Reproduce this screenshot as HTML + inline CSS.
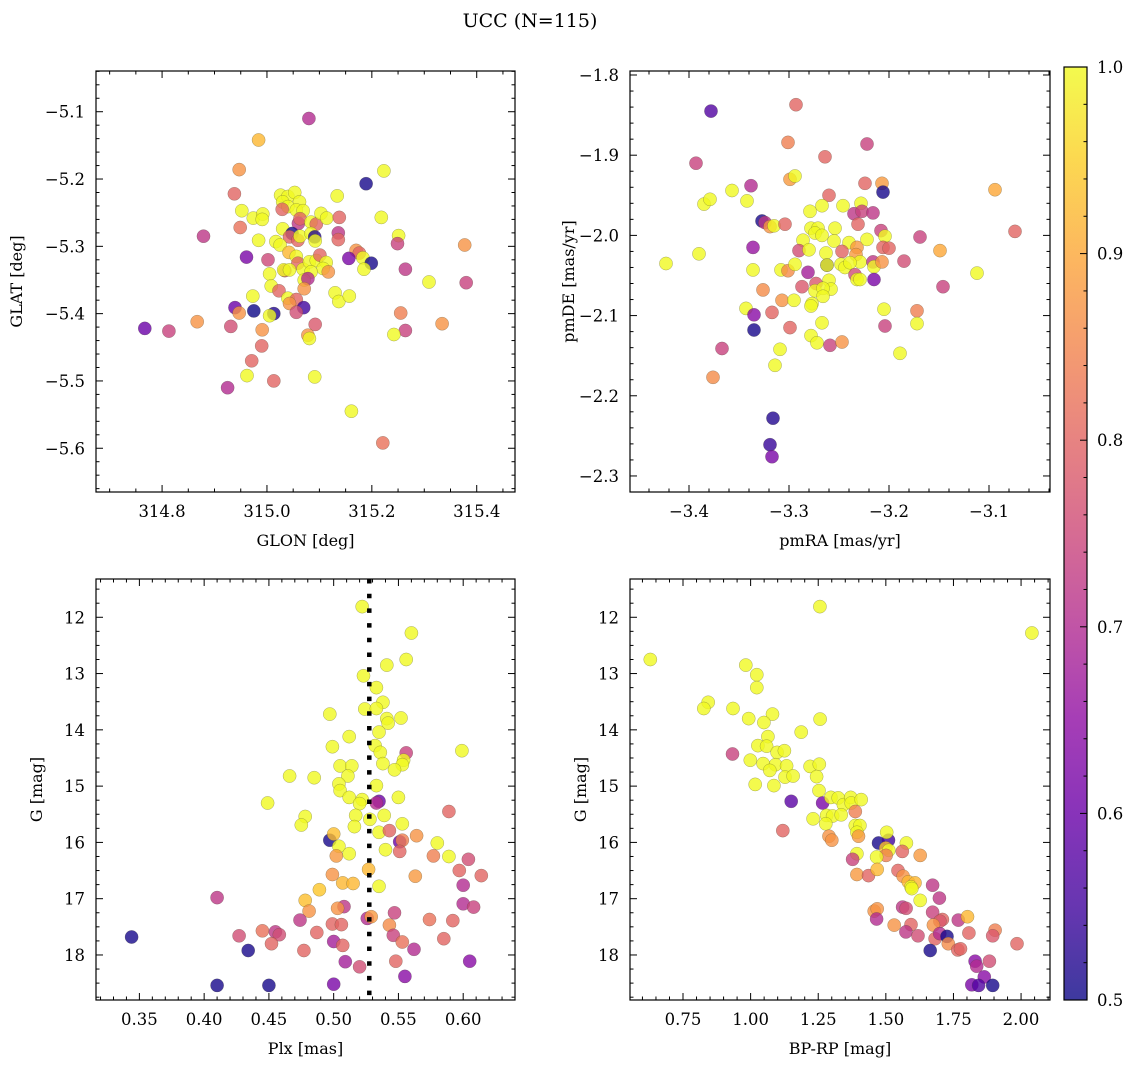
<!DOCTYPE html>
<html><head><meta charset="utf-8">
<style>
html,body{margin:0;padding:0;background:#fff;}
svg{display:block;font-family:"DejaVu Serif","Liberation Serif",serif;}
</style></head>
<body>
<svg id="fig" width="1136" height="1067" viewBox="0 0 1136 1067" xmlns="http://www.w3.org/2000/svg">
<text x="530" y="27" font-size="19" text-anchor="middle">UCC (N=115)</text>
</svg>
<script>
// ---------- Panel 1: GLON vs GLAT ----------
const p1x=[315.080,314.984,314.947,315.223,315.189,314.938,314.952,314.949,314.879,314.961,314.984,315.002,314.974,314.992,314.991,315.026,315.040,315.053,315.062,315.030,315.040,315.056,315.069,315.029,315.060,315.063,315.030,315.048,315.043,315.059,315.063,315.084,315.094,315.084,315.091,315.092,315.103,315.114,315.138,315.134,315.136,315.136,315.017,315.025,315.042,315.056,315.059,315.034,315.032,315.043,315.069,315.081,315.094,315.101,315.113,315.107,315.117,315.084,315.071,315.078,315.071,315.005,315.008,315.023,314.973,315.040,315.056,315.043,315.070,315.056,315.013,315.005,314.975,314.939,314.947,315.170,315.176,315.156,315.183,315.199,315.185,315.130,315.137,315.157,315.218,315.251,315.249,315.264,315.309,315.377,315.380,315.255,315.264,315.242,315.334,314.767,314.813,314.867,314.931,314.991,314.990,314.971,314.962,314.925,315.013,315.091,315.092,315.078,315.081,315.161,315.221];
const p1y=[-5.110,-5.142,-5.186,-5.188,-5.207,-5.222,-5.247,-5.272,-5.285,-5.316,-5.291,-5.320,-5.258,-5.252,-5.260,-5.224,-5.226,-5.220,-5.234,-5.234,-5.241,-5.246,-5.247,-5.245,-5.266,-5.259,-5.274,-5.281,-5.286,-5.291,-5.285,-5.264,-5.267,-5.281,-5.286,-5.292,-5.251,-5.258,-5.257,-5.225,-5.280,-5.290,-5.293,-5.298,-5.309,-5.315,-5.325,-5.336,-5.335,-5.335,-5.334,-5.323,-5.321,-5.313,-5.324,-5.333,-5.338,-5.338,-5.350,-5.348,-5.363,-5.341,-5.359,-5.366,-5.374,-5.377,-5.379,-5.385,-5.391,-5.398,-5.400,-5.403,-5.396,-5.391,-5.399,-5.306,-5.310,-5.318,-5.317,-5.325,-5.334,-5.369,-5.382,-5.374,-5.257,-5.284,-5.296,-5.334,-5.353,-5.298,-5.354,-5.399,-5.425,-5.431,-5.415,-5.422,-5.426,-5.412,-5.419,-5.424,-5.448,-5.470,-5.492,-5.510,-5.500,-5.494,-5.416,-5.432,-5.437,-5.545,-5.592];
const p1c=[0.70,0.92,0.87,1.00,0.51,0.80,1.00,0.82,0.72,0.62,1.00,0.75,1.00,1.00,1.00,1.00,1.00,1.00,1.00,1.00,1.00,1.00,1.00,0.80,0.72,0.80,1.00,0.51,0.80,0.80,1.00,1.00,0.80,1.00,0.52,1.00,1.00,1.00,0.80,1.00,0.72,0.80,1.00,1.00,0.92,1.00,0.80,0.76,1.00,1.00,1.00,1.00,1.00,0.80,1.00,1.00,0.87,1.00,1.00,0.70,0.87,1.00,1.00,0.80,1.00,1.00,0.80,0.87,0.55,0.76,0.52,1.00,0.50,0.60,0.87,0.87,0.80,0.62,1.00,0.51,1.00,1.00,1.00,1.00,1.00,1.00,0.74,0.72,1.00,0.87,0.74,0.84,0.74,1.00,0.87,0.60,0.74,0.87,0.76,0.87,0.80,0.80,1.00,0.70,0.80,1.00,0.78,0.87,1.00,1.00,0.82];

// ---------- Panel 2: pmRA vs pmDE ----------
const p2x=[-3.378,-3.293,-3.301,-3.222,-3.264,-3.393,-3.299,-3.294,-3.224,-3.207,-3.206,-3.094,-3.338,-3.357,-3.385,-3.379,-3.342,-3.260,-3.279,-3.267,-3.246,-3.228,-3.235,-3.227,-3.216,-3.231,-3.327,-3.324,-3.319,-3.315,-3.304,-3.278,-3.271,-3.274,-3.267,-3.254,-3.286,-3.255,-3.240,-3.232,-3.222,-3.208,-3.204,-3.206,-3.200,-3.169,-3.074,-3.149,-3.336,-3.290,-3.280,-3.263,-3.247,-3.233,-3.229,-3.262,-3.262,-3.248,-3.244,-3.239,-3.216,-3.215,-3.207,-3.185,-3.423,-3.390,-3.336,-3.308,-3.301,-3.294,-3.281,-3.234,-3.232,-3.229,-3.215,-3.112,-3.146,-3.287,-3.273,-3.260,-3.258,-3.274,-3.266,-3.266,-3.326,-3.307,-3.295,-3.277,-3.278,-3.343,-3.335,-3.317,-3.335,-3.299,-3.267,-3.205,-3.172,-3.172,-3.204,-3.278,-3.272,-3.259,-3.247,-3.309,-3.314,-3.367,-3.376,-3.189,-3.316,-3.319,-3.317];
const p2y=[-1.845,-1.837,-1.884,-1.886,-1.902,-1.910,-1.930,-1.926,-1.935,-1.935,-1.946,-1.943,-1.938,-1.944,-1.961,-1.955,-1.957,-1.950,-1.970,-1.963,-1.963,-1.960,-1.973,-1.970,-1.972,-1.986,-1.982,-1.984,-1.989,-1.988,-1.986,-1.991,-1.991,-1.997,-2.000,-1.991,-2.006,-2.007,-2.009,-2.015,-2.005,-1.994,-2.001,-2.015,-2.016,-2.002,-1.995,-2.019,-2.015,-2.019,-2.018,-2.022,-2.020,-2.024,-2.033,-2.037,-2.037,-2.036,-2.040,-2.034,-2.033,-2.039,-2.033,-2.032,-2.035,-2.023,-2.043,-2.043,-2.044,-2.036,-2.046,-2.049,-2.055,-2.055,-2.055,-2.047,-2.064,-2.064,-2.060,-2.056,-2.067,-2.069,-2.066,-2.076,-2.068,-2.081,-2.081,-2.085,-2.088,-2.091,-2.099,-2.096,-2.118,-2.115,-2.109,-2.092,-2.094,-2.110,-2.113,-2.125,-2.134,-2.137,-2.133,-2.142,-2.162,-2.141,-2.177,-2.147,-2.228,-2.261,-2.276];
const p2c=[0.57,0.80,0.84,0.74,0.80,0.74,0.88,1.00,0.80,0.88,0.51,0.90,0.70,1.00,1.00,1.00,1.00,0.80,1.00,1.00,1.00,1.00,0.72,0.74,0.72,0.80,0.51,0.72,0.87,1.00,0.80,1.00,1.00,1.00,1.00,1.00,1.00,1.00,1.00,0.88,1.00,0.74,1.00,0.80,0.80,0.74,0.80,0.90,0.66,0.76,1.00,1.00,0.80,0.88,1.00,0.52,1.00,1.00,1.00,1.00,0.72,1.00,0.87,0.76,1.00,1.00,1.00,1.00,0.86,1.00,0.68,0.76,1.00,1.00,0.62,1.00,0.74,0.78,0.78,1.00,1.00,1.00,1.00,1.00,0.86,0.87,1.00,1.00,1.00,1.00,0.64,0.80,0.51,0.80,1.00,1.00,0.84,1.00,0.74,1.00,1.00,0.74,0.87,1.00,1.00,0.74,0.86,1.00,0.52,0.54,0.62];

// ---------- Panel 3: Plx vs G ----------
const p3x=[0.522,0.560,0.556,0.541,0.523,0.533,0.538,0.524,0.533,0.497,0.541,0.542,0.552,0.535,0.512,0.499,0.532,0.536,0.556,0.554,0.553,0.538,0.547,0.599,0.505,0.514,0.511,0.466,0.485,0.504,0.505,0.533,0.512,0.522,0.520,0.535,0.533,0.550,0.449,0.517,0.528,0.539,0.516,0.478,0.475,0.589,0.553,0.535,0.543,0.564,0.497,0.500,0.551,0.553,0.551,0.580,0.504,0.502,0.512,0.540,0.577,0.589,0.604,0.597,0.614,0.563,0.527,0.499,0.507,0.515,0.535,0.600,0.489,0.410,0.478,0.508,0.503,0.481,0.600,0.608,0.547,0.526,0.529,0.474,0.574,0.592,0.499,0.506,0.543,0.344,0.427,0.445,0.455,0.458,0.487,0.452,0.434,0.477,0.500,0.507,0.546,0.553,0.585,0.562,0.509,0.520,0.548,0.605,0.555,0.410,0.450,0.500];
const p3y=[11.81,12.28,12.75,12.85,13.04,13.25,13.51,13.63,13.62,13.72,13.80,13.88,13.79,14.04,14.12,14.30,14.28,14.40,14.41,14.54,14.62,14.60,14.71,14.37,14.64,14.64,14.82,14.82,14.85,14.96,15.08,14.99,15.20,15.24,15.31,15.27,15.30,15.20,15.30,15.52,15.59,15.52,15.72,15.54,15.69,15.45,15.67,15.82,15.79,15.88,15.96,15.85,15.99,15.96,16.16,16.01,16.07,16.24,16.20,16.13,16.24,16.25,16.30,16.50,16.59,16.60,16.48,16.57,16.72,16.73,16.78,16.76,16.84,16.98,17.03,17.14,17.17,17.22,17.09,17.15,17.25,17.35,17.32,17.38,17.37,17.39,17.45,17.46,17.47,17.68,17.66,17.57,17.59,17.64,17.60,17.80,17.92,17.92,17.76,17.83,17.65,17.77,17.71,17.90,18.12,18.21,18.11,18.11,18.38,18.54,18.54,18.52];
const p3c=[1.00,1.00,1.00,1.00,1.00,1.00,1.00,1.00,1.00,1.00,1.00,1.00,1.00,1.00,1.00,1.00,1.00,1.00,0.74,1.00,1.00,1.00,1.00,1.00,1.00,1.00,1.00,1.00,1.00,1.00,1.00,1.00,1.00,1.00,1.00,0.60,0.70,1.00,1.00,1.00,1.00,1.00,1.00,1.00,1.00,0.80,1.00,1.00,0.80,0.87,0.51,0.93,0.60,0.84,0.80,1.00,1.00,0.88,1.00,1.00,0.84,1.00,0.76,0.80,0.80,0.88,0.92,0.87,0.92,0.92,1.00,0.70,0.94,0.72,0.93,0.72,0.87,0.87,0.70,0.74,0.74,0.70,0.88,0.72,0.82,0.80,0.80,0.80,0.86,0.51,0.76,0.82,0.72,0.76,0.80,0.80,0.51,0.80,0.68,0.80,0.74,0.82,0.80,0.70,0.68,0.76,0.80,0.64,0.64,0.51,0.51,0.62];

// ---------- Panel 4: BP-RP vs G ----------
const p4x=[0.629,1.256,2.040,0.982,1.023,1.023,0.843,0.827,0.935,1.081,0.993,1.049,1.257,1.187,1.064,1.027,1.059,1.098,1.125,0.933,0.999,1.046,1.092,1.071,1.133,1.127,1.157,1.220,1.254,1.244,1.017,1.086,1.253,1.150,1.266,1.297,1.324,1.343,1.370,1.372,1.409,1.231,1.281,1.303,1.335,1.278,1.387,1.387,1.404,1.393,1.399,1.119,1.290,1.300,1.473,1.510,1.503,1.500,1.511,1.501,1.466,1.576,1.561,1.627,1.393,1.377,1.393,1.436,1.468,1.545,1.564,1.583,1.608,1.593,1.596,1.673,1.698,1.627,1.562,1.575,1.457,1.468,1.466,1.673,1.709,1.700,1.768,1.802,1.676,1.531,1.593,1.574,1.619,1.682,1.699,1.726,1.731,1.766,1.776,1.807,1.904,1.895,1.985,1.664,1.830,1.836,1.883,1.864,1.818,1.843,1.895];
const p4y=[12.75,11.81,12.28,12.85,13.02,13.25,13.51,13.62,13.62,13.72,13.80,13.87,13.81,14.04,14.12,14.28,14.29,14.40,14.37,14.43,14.54,14.60,14.62,14.72,14.64,14.84,14.82,14.65,14.61,14.83,14.97,14.99,15.08,15.27,15.30,15.20,15.21,15.33,15.20,15.30,15.24,15.58,15.52,15.53,15.51,15.67,15.45,15.70,15.70,15.82,15.89,15.79,15.89,15.96,16.01,15.96,15.82,16.10,16.14,16.23,16.26,16.01,16.16,16.23,16.20,16.30,16.57,16.59,16.48,16.50,16.60,16.70,16.72,16.79,16.82,16.76,16.99,17.03,17.15,17.17,17.22,17.18,17.36,17.24,17.37,17.40,17.38,17.32,17.47,17.47,17.46,17.59,17.66,17.71,17.62,17.67,17.80,17.91,17.89,17.61,17.56,17.66,17.80,17.92,18.11,18.20,18.11,18.39,18.53,18.54,18.54];
const p4c=[1.00,1.00,1.00,1.00,1.00,1.00,1.00,1.00,1.00,1.00,1.00,1.00,1.00,1.00,1.00,1.00,1.00,1.00,1.00,0.74,1.00,1.00,1.00,1.00,1.00,1.00,1.00,1.00,1.00,1.00,1.00,1.00,1.00,0.58,0.62,1.00,1.00,1.00,1.00,1.00,1.00,1.00,1.00,1.00,1.00,1.00,0.84,1.00,1.00,1.00,0.88,0.80,0.87,0.87,0.51,0.55,1.00,0.93,1.00,0.84,1.00,1.00,0.80,0.88,1.00,0.74,0.88,0.80,0.92,0.80,0.87,0.92,0.92,1.00,1.00,0.72,0.72,1.00,0.72,0.76,0.87,0.87,0.70,0.74,0.80,0.78,0.72,0.92,0.87,0.87,0.80,0.72,0.76,0.80,0.70,0.51,0.86,0.80,0.80,0.80,0.84,0.78,0.80,0.51,0.64,0.70,0.76,0.64,0.62,0.57,0.51];

// ---------- axes & colormap ----------
const svg=document.getElementById('fig');
const NS='http://www.w3.org/2000/svg';
const VMIN=0.5, VMAX=1.0;
const plasmaStops=[[13,8,135],[65,4,157],[106,0,168],[143,13,164],[177,42,144],[204,71,120],[225,100,98],[242,132,75],[252,166,54],[252,206,37],[240,249,33]];
function cmap(v){
  let t=(v-VMIN)/(VMAX-VMIN); t=Math.max(0,Math.min(1,t));
  const f=t*10, i=Math.min(9,Math.floor(f)), r=f-i;
  const a=plasmaStops[i], b=plasmaStops[i+1];
  return 'rgb('+a.map((x,k)=>Math.round(x+(b[k]-x)*r)).join(',')+')';
}
function el(tag,attrs,parent){
  const e=document.createElementNS(NS,tag);
  for(const k in attrs) e.setAttribute(k,attrs[k]);
  (parent||svg).appendChild(e); return e;
}
function fmt(v,d){return (v<0?'\u2212':'')+Math.abs(v).toFixed(d);}

function panel(cfg, xs, ys, cs){
  const g=el('g',{});
  
  
  const L=cfg.L,R=cfg.R,T=cfg.T,B=cfg.B;
  const sx=v=>L+(v-cfg.x0)/(cfg.x1-cfg.x0)*(R-L);
  const sy=cfg.invert ? (v=>T+(v-cfg.y0)/(cfg.y1-cfg.y0)*(B-T)) : (v=>B-(v-cfg.y0)/(cfg.y1-cfg.y0)*(B-T));
  for(let i=0;i<xs.length;i++){
    const c=el('circle',{cx:sx(xs[i]).toFixed(1),cy:sy(ys[i]).toFixed(1),r:6.6,fill:cmap(cs[i]),'fill-opacity':0.8,stroke:'rgba(70,70,50,0.45)','stroke-width':0.5},g);
    
    
  }
  if(cfg.vline!==undefined){
    const ln=el('line',{x1:sx(cfg.vline),x2:sx(cfg.vline),y1:T,y2:B,stroke:'#000','stroke-width':4.5,'stroke-dasharray':'4.5 10.2'},g);
    
    
  }
  const fr=el('rect',{x:L,y:T,width:R-L,height:B-T,fill:'none',stroke:'#000','stroke-width':1.2},g);
  
  
  const eps=1e-9;
  let start=Math.ceil((cfg.x0-eps)/cfg.xminor)*cfg.xminor;
  for(let v=start; v<=cfg.x1+eps; v+=cfg.xminor){
    const major=Math.abs(v/cfg.xmajor-Math.round(v/cfg.xmajor))<1e-6;
    const len=major?7:3.5, X=sx(v);
    el('line',{x1:X,x2:X,y1:B,y2:B-len,stroke:'#000','stroke-width':1},g);
    el('line',{x1:X,x2:X,y1:T,y2:T+len,stroke:'#000','stroke-width':1},g);
  }
  for(const v of cfg.xlabels){
    const t=el('text',{x:sx(v),y:B+25,'font-size':16.5,'text-anchor':'middle'},g);
    t.textContent=fmt(v,cfg.xdec);
    
    
  }
  start=Math.ceil((cfg.y0-eps)/cfg.yminor)*cfg.yminor;
  for(let v=start; v<=cfg.y1+eps; v+=cfg.yminor){
    const major=Math.abs(v/cfg.ymajor-Math.round(v/cfg.ymajor))<1e-6;
    const len=major?7:3.5, Y=sy(v);
    el('line',{x1:L,x2:L+len,y1:Y,y2:Y,stroke:'#000','stroke-width':1},g);
    el('line',{x1:R,x2:R-len,y1:Y,y2:Y,stroke:'#000','stroke-width':1},g);
  }
  for(const v of cfg.ylabels){
    const t=el('text',{x:L-11,y:sy(v)+6,'font-size':16.5,'text-anchor':'end'},g);
    t.textContent=fmt(v,cfg.ydec);
    
    
  }
  const xt=el('text',{x:(L+R)/2,y:B+54,'font-size':16,'text-anchor':'middle'},g);
  xt.textContent=cfg.xtitle;
  
  
  const yt=el('text',{x:cfg.ytx,y:(T+B)/2,'font-size':16,'text-anchor':'middle',transform:'rotate(-90 '+cfg.ytx+' '+(T+B)/2+')'},g);
  yt.textContent=cfg.ytitle;
  
  
}

panel({name:'glon-glat-panel',L:96,R:515,T:71,B:492,x0:314.674,x1:315.473,y0:-5.665,y1:-5.0395,
  xmajor:0.2,xminor:0.05,ymajor:0.1,yminor:0.02,xlabels:[314.8,315.0,315.2,315.4],xdec:1,
  ylabels:[-5.1,-5.2,-5.3,-5.4,-5.5,-5.6],ydec:1,xtitle:'GLON [deg]',ytitle:'GLAT [deg]',ytx:22},p1x,p1y,p1c);
panel({name:'pm-panel',L:630,R:1050,T:71,B:492,x0:-3.459,x1:-3.039,y0:-2.32,y1:-1.795,
  xmajor:0.1,xminor:0.02,ymajor:0.1,yminor:0.02,xlabels:[-3.4,-3.3,-3.2,-3.1],xdec:1,
  ylabels:[-1.8,-1.9,-2.0,-2.1,-2.2,-2.3],ydec:1,xtitle:'pmRA [mas/yr]',ytitle:'pmDE [mas/yr]',ytx:574},p2x,p2y,p2c);
panel({name:'plx-g-panel',L:96,R:515,T:579,B:1000,x0:0.3165,x1:0.640,y0:11.32,y1:18.80,invert:true,
  xmajor:0.05,xminor:0.01,ymajor:1,yminor:0.25,xlabels:[0.35,0.40,0.45,0.50,0.55,0.60],xdec:2,
  ylabels:[12,13,14,15,16,17,18],ydec:0,xtitle:'Plx [mas]',ytitle:'G [mag]',ytx:42,vline:0.5275},p3x,p3y,p3c);
panel({name:'cmd-panel',L:630,R:1050,T:579,B:1000,x0:0.554,x1:2.107,y0:11.32,y1:18.80,invert:true,
  xmajor:0.25,xminor:0.05,ymajor:1,yminor:0.25,xlabels:[0.75,1.00,1.25,1.50,1.75,2.00],xdec:2,
  ylabels:[12,13,14,15,16,17,18],ydec:0,xtitle:'BP-RP [mag]',ytitle:'G [mag]',ytx:586},p4x,p4y,p4c);

// ---------- colorbar ----------
const cbTicks=[0.5,0.6,0.7,0.8,0.9,1.0];
(function(){
  const L=1064,R=1087,T=67,B=1000;
  const g=el('g',{});
  
  
  const defs=el('defs',{},g);
  const lg=el('linearGradient',{id:'cbg',x1:0,y1:1,x2:0,y2:0},defs);
  for(let k=0;k<=20;k++){
    const v=VMIN+(VMAX-VMIN)*k/20;
    el('stop',{offset:(k/20).toFixed(3),'stop-color':cmap(v)},lg);
  }
  el('rect',{x:L,y:T,width:R-L,height:B-T,fill:'url(#cbg)','fill-opacity':0.8},g);
  el('rect',{x:L,y:T,width:R-L,height:B-T,fill:'none',stroke:'#000','stroke-width':1.2},g);
  const sy=v=>B-(v-VMIN)/(VMAX-VMIN)*(B-T);
  for(let v=VMIN; v<=VMAX+1e-9; v+=0.02){
    const major=Math.abs(v*10-Math.round(v*10))<1e-6;
    el('line',{x1:R,x2:R-(major?7:3.5),y1:sy(v),y2:sy(v),stroke:'#000','stroke-width':1},g);
  }
  for(const v of cbTicks){
    const t=el('text',{x:R+10,y:sy(v)+6,'font-size':16.5},g);
    t.textContent=v.toFixed(1);
    
    
  }
})();
</script>
</body></html>
